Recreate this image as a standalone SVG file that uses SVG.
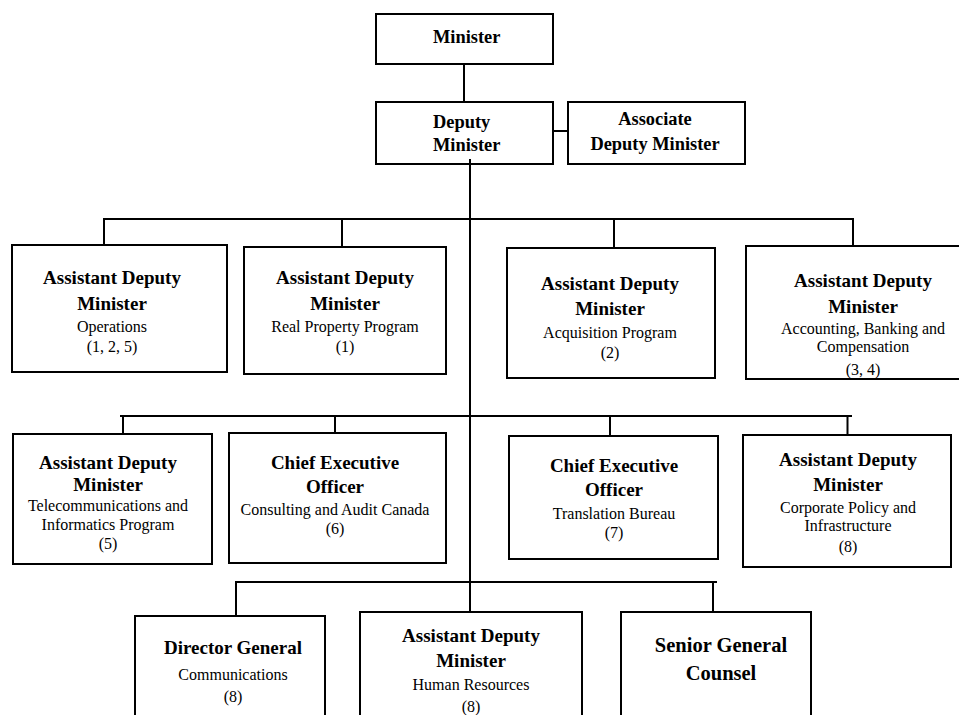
<svg xmlns="http://www.w3.org/2000/svg" width="959" height="715" viewBox="0 0 959 715">
<style>
.box{fill:#fff;stroke:#000;stroke-width:2}
.ln{stroke:#000;stroke-width:2;fill:none}
.t{font-family:"Liberation Serif","Times New Roman",serif;font-weight:bold;font-size:19px;fill:#000;text-anchor:middle}
.tt{font-family:"Liberation Serif","Times New Roman",serif;font-weight:bold;font-size:18.4px;fill:#000}
.s{font-family:"Liberation Serif","Times New Roman",serif;font-size:16px;fill:#000;text-anchor:middle}
</style>
<rect width="959" height="715" fill="#fff"/>
<g id="connectors">
<line class="ln" x1="464" y1="64" x2="464" y2="102"/>
<line class="ln" x1="553" y1="131" x2="568" y2="131"/>
<line class="ln" x1="470" y1="159" x2="470" y2="613"/>
<line class="ln" x1="103" y1="219" x2="854" y2="219"/>
<line class="ln" x1="104" y1="219" x2="104" y2="245"/>
<line class="ln" x1="342" y1="219" x2="342" y2="247"/>
<line class="ln" x1="614" y1="219" x2="614" y2="248"/>
<line class="ln" x1="853" y1="219" x2="853" y2="246"/>
<line class="ln" x1="120" y1="416" x2="852" y2="416"/>
<line class="ln" x1="123" y1="416" x2="123" y2="434"/>
<line class="ln" x1="335" y1="416" x2="335" y2="433"/>
<line class="ln" x1="610" y1="416" x2="610" y2="436"/>
<line class="ln" x1="847.5" y1="416" x2="847.5" y2="435"/>
<line class="ln" x1="235" y1="582" x2="717" y2="582"/>
<line class="ln" x1="236" y1="582" x2="236" y2="616"/>
<line class="ln" x1="713" y1="582" x2="713" y2="612"/>
</g>
<g id="minister">
<rect class="box" x="376" y="14" width="177" height="50"/>
<text class="tt" x="433" y="43">Minister</text>
</g>
<g id="deputy-minister">
<rect class="box" x="376" y="102" width="177" height="62"/>
<text class="tt" x="433" y="128">Deputy</text>
<text class="tt" x="433" y="150.5">Minister</text>
</g>
<line class="ln" x1="470" y1="159" x2="470" y2="165"/>
<g id="associate-deputy-minister">
<rect class="box" x="568" y="102" width="177" height="62"/>
<text class="tt" x="655" y="125" text-anchor="middle">Associate</text>
<text class="tt" x="655" y="150" text-anchor="middle">Deputy Minister</text>
</g>
<g id="adm-operations">
<rect class="box" x="12" y="245" width="215" height="127"/>
<text class="t" x="112" y="284">Assistant Deputy</text>
<text class="t" x="112" y="310">Minister</text>
<text class="s" x="112" y="331.5">Operations</text>
<text class="s" x="112" y="351.5">(1, 2, 5)</text>
</g>
<g id="adm-real-property">
<rect class="box" x="244" y="247" width="202" height="127"/>
<text class="t" x="345" y="284">Assistant Deputy</text>
<text class="t" x="345" y="310">Minister</text>
<text class="s" x="345" y="331.5">Real Property Program</text>
<text class="s" x="345" y="351.5">(1)</text>
</g>
<g id="adm-acquisition">
<rect class="box" x="507" y="248" width="208" height="130"/>
<text class="t" x="610" y="289.5">Assistant Deputy</text>
<text class="t" x="610" y="315">Minister</text>
<text class="s" x="610" y="338">Acquisition Program</text>
<text class="s" x="610" y="358">(2)</text>
</g>
<g id="adm-accounting">
<rect class="box" x="746" y="246" width="236" height="133"/>
<text class="t" x="863" y="287">Assistant Deputy</text>
<text class="t" x="863" y="312.5">Minister</text>
<text class="s" x="863" y="333.5">Accounting, Banking and</text>
<text class="s" x="863" y="352">Compensation</text>
<text class="s" x="863" y="375">(3, 4)</text>
</g>
<g id="adm-telecom">
<rect class="box" x="13" y="434" width="199" height="130"/>
<text class="t" x="108" y="469">Assistant Deputy</text>
<text class="t" x="108" y="491">Minister</text>
<text class="s" x="108" y="511">Telecommunications and</text>
<text class="s" x="108" y="530">Informatics Program</text>
<text class="s" x="108" y="549">(5)</text>
</g>
<g id="ceo-consulting">
<rect class="box" x="229" y="433" width="217" height="130"/>
<text class="t" x="335" y="468.5">Chief Executive</text>
<text class="t" x="335" y="493">Officer</text>
<text class="s" x="335" y="514.5">Consulting and Audit Canada</text>
<text class="s" x="335" y="533.5">(6)</text>
</g>
<g id="ceo-translation">
<rect class="box" x="509" y="436" width="209" height="123"/>
<text class="t" x="614" y="472">Chief Executive</text>
<text class="t" x="614" y="496">Officer</text>
<text class="s" x="614" y="518.5">Translation Bureau</text>
<text class="s" x="614" y="538">(7)</text>
</g>
<g id="adm-corporate">
<rect class="box" x="743" y="435" width="208" height="132"/>
<text class="t" x="848" y="466">Assistant Deputy</text>
<text class="t" x="848" y="491">Minister</text>
<text class="s" x="848" y="512.5">Corporate Policy and</text>
<text class="s" x="848" y="531">Infrastructure</text>
<text class="s" x="848" y="552">(8)</text>
</g>
<g id="dg-communications">
<rect class="box" x="135" y="616" width="190" height="110"/>
<text class="t" x="233" y="654">Director General</text>
<text class="s" x="233" y="680">Communications</text>
<text class="s" x="233" y="702">(8)</text>
</g>
<g id="adm-hr">
<rect class="box" x="360" y="612" width="222" height="110"/>
<text class="t" x="471" y="642">Assistant Deputy</text>
<text class="t" x="471" y="667">Minister</text>
<text class="s" x="471" y="690">Human Resources</text>
<text class="s" x="471" y="712">(8)</text>
</g>
<g id="senior-general-counsel">
<rect class="box" x="621" y="612" width="190" height="110"/>
<text class="t" x="721" y="652" style="font-size:20.5px">Senior General</text>
<text class="t" x="721" y="679.5" style="font-size:20.5px">Counsel</text>
</g>
</svg>
